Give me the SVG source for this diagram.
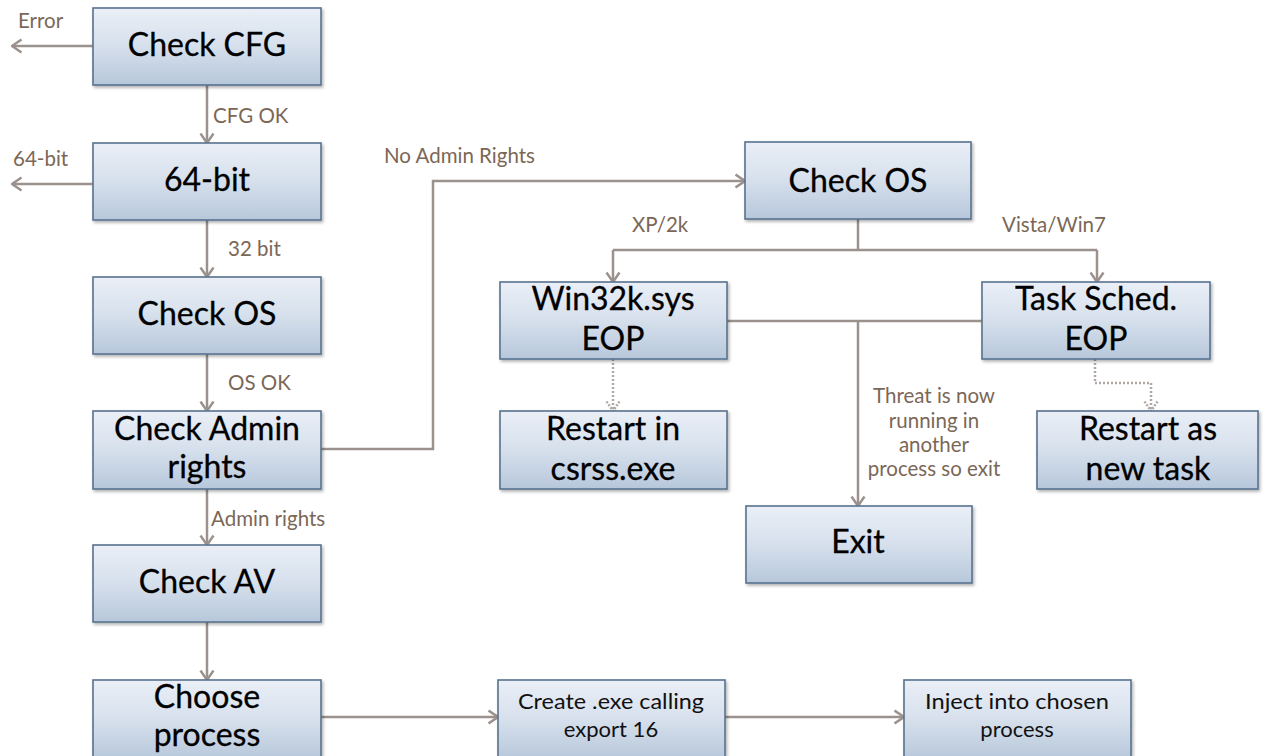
<svg xmlns="http://www.w3.org/2000/svg" width="1263" height="756" viewBox="0 0 1263 756">
<defs>
<linearGradient id="g" x1="0" y1="0" x2="0" y2="1">
<stop offset="0" stop-color="#eaeff7"/>
<stop offset="0.5" stop-color="#d6e0ec"/>
<stop offset="1" stop-color="#b7c7db"/>
</linearGradient>
<filter id="sh" x="-5%" y="-5%" width="112%" height="120%">
<feDropShadow dx="1.5" dy="2" stdDeviation="1.5" flood-color="#000" flood-opacity="0.3"/>
</filter>
<marker id="ar" viewBox="0 0 12 16" markerWidth="12" markerHeight="16" refX="10.5" refY="8" orient="auto" markerUnits="userSpaceOnUse">
<path d="M1,1.5 L10.5,8 L1,14.5" fill="none" stroke="#9b928e" stroke-width="2.5"/>
</marker>
<marker id="ard" viewBox="0 0 12 16" markerWidth="12" markerHeight="16" refX="10.5" refY="8" orient="auto" markerUnits="userSpaceOnUse">
<path d="M1,1.5 L10.5,8 L1,14.5" fill="none" stroke="#b0a8a4" stroke-width="2.5" stroke-dasharray="2 1.5"/>
</marker>
</defs>
<style>
.box{fill:url(#g);stroke:#58728f;stroke-width:1.6;filter:url(#sh)}
.t{font-family:Lato,"Open Sans",sans-serif;font-size:32px;fill:#000;stroke:#000;stroke-width:0.3;text-anchor:middle}
.ts{font-family:Lato,"Open Sans",sans-serif;font-size:22px;fill:#111;text-anchor:middle}
.lb{font-family:Lato,"Open Sans",sans-serif;font-size:20.5px;fill:#7b6757}
.c{fill:none;stroke:#9b928e;stroke-width:2.5}
.a{marker-end:url(#ar)}
.d{fill:none;stroke:#b0a8a4;stroke-width:2.5;stroke-dasharray:2 2;marker-end:url(#ard)}
</style>
<rect width="1263" height="756" fill="#fff"/>
<g id="connectors">
<path class="c a" d="M93,46 H12"/>
<path class="c a" d="M93,184 H12"/>
<path class="c a" d="M207,85 V143"/>
<path class="c a" d="M207,220 V277"/>
<path class="c a" d="M207,354 V411"/>
<path class="c a" d="M207,489 V545"/>
<path class="c a" d="M207,622 V680"/>
<path class="c a" d="M321,449 H433 V181 H745"/>
<path class="c" d="M858,219 V250 M613,250 H1097"/>
<path class="c a" d="M613,250 V282"/>
<path class="c a" d="M1097,250 V282"/>
<path class="c" d="M727,321 H982"/>
<path class="c a" d="M858,321 V506"/>
<path class="d" d="M613,359 V411"/>
<path class="d" d="M1095,359 V383 H1151 V411"/>
<path class="c a" d="M321,717 H498"/>
<path class="c a" d="M725,717 H904"/>
<text class="lb" x="18" y="28">Error</text>
<text class="lb" x="13" y="166">64-bit</text>
<text class="lb" x="213" y="123">CFG OK</text>
<text class="lb" x="228" y="256">32 bit</text>
<text class="lb" x="228" y="390">OS OK</text>
<text class="lb" x="211" y="526">Admin rights</text>
<text class="lb" x="384" y="163">No Admin Rights</text>
<text class="lb" x="632" y="232">XP/2k</text>
<text class="lb" x="1002" y="232">Vista/Win7</text>
<text class="lb" x="934" y="403" text-anchor="middle">Threat is now</text>
<text class="lb" x="934" y="428" text-anchor="middle">running in</text>
<text class="lb" x="934" y="452" text-anchor="middle">another</text>
<text class="lb" x="934" y="476" text-anchor="middle">process so exit</text>
</g>
<g id="check-cfg"><rect class="box" x="93" y="8" width="228" height="77"/><text class="t" x="207" y="56">Check CFG</text></g>
<g id="bit64"><rect class="box" x="93" y="143" width="228" height="77"/><text class="t" x="207" y="191">64-bit</text></g>
<g id="check-os-1"><rect class="box" x="93" y="277" width="228" height="77"/><text class="t" x="207" y="325">Check OS</text></g>
<g id="check-admin"><rect class="box" x="93" y="411" width="228" height="78"/><text class="t" x="207" y="440">Check Admin</text><text class="t" x="207" y="478">rights</text></g>
<g id="check-av"><rect class="box" x="93" y="545" width="228" height="77"/><text class="t" x="207" y="593">Check AV</text></g>
<g id="choose"><rect class="box" x="93" y="680" width="228" height="80"/><text class="t" x="207" y="708">Choose</text><text class="t" x="207" y="746">process</text></g>
<g id="check-os-2"><rect class="box" x="745" y="142" width="226" height="77"/><text class="t" x="858" y="192">Check OS</text></g>
<g id="win32k"><rect class="box" x="500" y="282" width="227" height="77"/><text class="t" x="613" y="310">Win32k.sys</text><text class="t" x="613" y="350">EOP</text></g>
<g id="tasksched"><rect class="box" x="982" y="282" width="228" height="77"/><text class="t" x="1096" y="310">Task Sched.</text><text class="t" x="1096" y="350">EOP</text></g>
<g id="restart-csrss"><rect class="box" x="500" y="411" width="227" height="78"/><text class="t" x="613" y="440">Restart in</text><text class="t" x="613" y="480">csrss.exe</text></g>
<g id="restart-task"><rect class="box" x="1037" y="411" width="221" height="78"/><text class="t" x="1148" y="440">Restart as</text><text class="t" x="1148" y="480">new task</text></g>
<g id="exit"><rect class="box" x="746" y="506" width="226" height="77"/><text class="t" x="858" y="553">Exit</text></g>
<g id="create-exe"><rect class="box" x="498" y="680" width="227" height="80"/><text class="ts" x="611" y="709" textLength="186" lengthAdjust="spacingAndGlyphs">Create .exe calling</text><text class="ts" x="611" y="737">export 16</text></g>
<g id="inject"><rect class="box" x="904" y="680" width="227" height="80"/><text class="ts" x="1017" y="709" textLength="184" lengthAdjust="spacingAndGlyphs">Inject into chosen</text><text class="ts" x="1017" y="737">process</text></g>
</svg>
